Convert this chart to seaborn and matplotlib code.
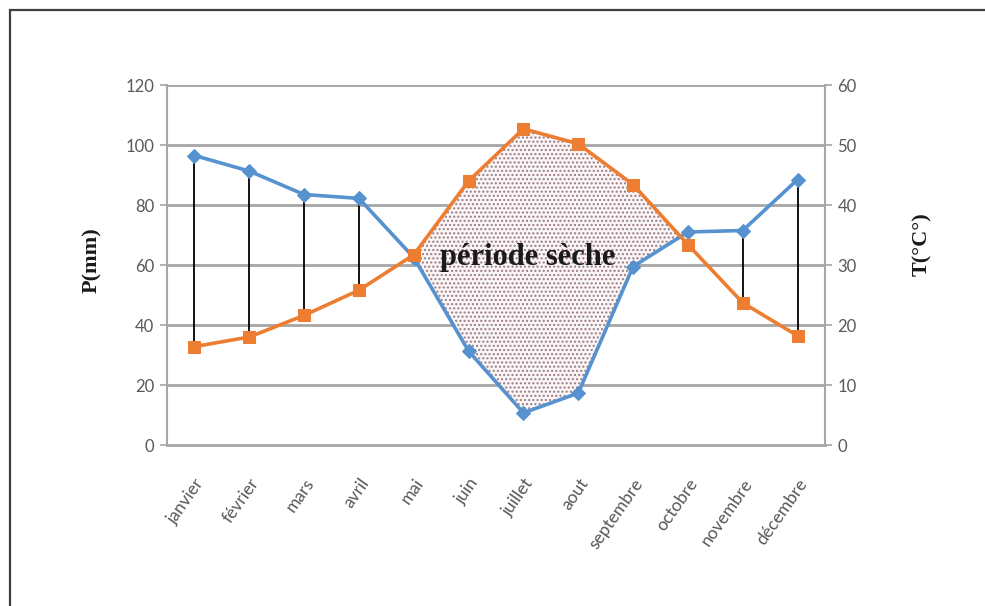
import matplotlib
matplotlib.use("Agg")
import matplotlib.pyplot as plt
import matplotlib.patches as mpatches
import numpy as np
import pandas as pd
import seaborn as sns

# Monthly climate data
mois = ["janvier", "février", "mars", "avril", "mai", "juin", "juillet",
        "aout", "septembre", "octobre", "novembre", "décembre"]
precip_mm = [96.5, 91.3, 83.5, 82.2, 62.5, 31.3, 10.7, 17.3, 59.5, 71.0, 71.5, 88.5]
temp_c = [16.4, 18.0, 21.6, 25.8, 31.7, 44.0, 52.7, 50.2, 43.4, 33.4, 23.7, 18.2]
# months marked as humid with a vertical bar between the curves
mois_humides = ["janvier", "février", "mars", "avril", "novembre", "décembre"]

df = pd.DataFrame({"mois": mois, "P": precip_mm, "T": temp_c})
df["x"] = np.arange(len(df))
df["T2"] = df["T"] * 2  # temperature on the P = 2T scale

sns.set_theme(style="white")
plt.rcParams["font.family"] = ["Lato", "DejaVu Sans"]
plt.rcParams["hatch.linewidth"] = 1.0

BLUE = "#5592cf"
ORANGE = "#ed7d31"
GRID = "#a6a6a6"
TXT = "#595959"

fig = plt.figure(figsize=(9.85, 6.06), dpi=100)
fig.patch.set_facecolor("white")
ax = fig.add_axes([167 / 985, 1 - 445 / 606, (825 - 167) / 985, (445 - 85) / 606])
ax2 = ax.twinx()

# Outer frame
fig.add_artist(mpatches.Rectangle((10 / 985, -0.05), 1.1, 1 - 10 / 606 + 0.05,
                                  transform=fig.transFigure, fill=False,
                                  edgecolor="#404040", lw=1.6))

ax.set_xlim(-0.5, 11.5)
ax.set_ylim(0, 120)
ax2.set_ylim(0, 60)

# horizontal gridlines
for yv in range(20, 121, 20):
    ax.axhline(yv, color=GRID, lw=2.0, zorder=0)

# dry period: temperature curve above precipitation
ax.fill_between(df["x"], df["P"], df["T2"], where=df["T2"] > df["P"],
                interpolate=True, facecolor="#fbf6f6", edgecolor="#9a7a84",
                hatch="....", lw=0, zorder=1)

# humid months: vertical bars between the curves
hum = df[df["mois"].isin(mois_humides)]
ax.vlines(hum["x"], hum["T2"], hum["P"], color="black", lw=1.3, zorder=2)

sns.lineplot(data=df, x="x", y="P", ax=ax, color=BLUE, lw=2.6, marker="D",
             markersize=7, markeredgecolor=BLUE, zorder=3)
sns.lineplot(data=df, x="x", y="T", ax=ax2, color=ORANGE, lw=2.6, marker="s",
             markersize=9, markeredgecolor=ORANGE, zorder=3)

ax.text(6.08, 62.5, "période sèche", family="Liberation Serif", weight="bold",
        fontsize=22, ha="center", va="center", color="#1a1a1a", zorder=4)

# axes styling
for a in (ax, ax2):
    for s in a.spines.values():
        s.set_visible(False)
ax.spines["left"].set_visible(True)
ax.spines["left"].set_color(GRID)
ax.spines["left"].set_linewidth(1.5)
ax.spines["bottom"].set_visible(True)
ax.spines["bottom"].set_color(GRID)
ax.spines["bottom"].set_linewidth(2.0)
ax2.spines["right"].set_visible(True)
ax2.spines["right"].set_color(GRID)
ax2.spines["right"].set_linewidth(1.5)

ax.set_yticks(range(0, 121, 20))
ax2.set_yticks(range(0, 61, 10))
ax.set_xticks(df["x"])
ax.set_xticklabels(mois, rotation=55, ha="right", rotation_mode="anchor")
ax.set_xticks(np.arange(-0.5, 12, 1), minor=True)
ax.tick_params(axis="x", which="major", length=0, pad=22, labelsize=12.5, labelcolor=TXT)
ax.tick_params(axis="x", which="minor", length=6, width=1.2, color=GRID, direction="out")
ax.tick_params(axis="y", length=5, width=1.2, color=GRID, direction="out",
               labelsize=12, labelcolor=TXT, pad=4, left=True)
ax2.tick_params(axis="y", length=5, width=1.2, color=GRID, direction="out",
                labelsize=12, labelcolor=TXT, pad=4, right=True)
ax2.grid(False)
ax.grid(False)

ax.set_xlabel("")
ax.set_ylabel("")
ax2.set_ylabel("")
fig.text(92 / 985, 1 - 260 / 606, "P(mm)", family="Liberation Serif", weight="bold",
         fontsize=16, color="#1a1a1a", rotation=90, ha="center", va="center")
fig.text(922 / 985, 1 - 244 / 606, "T(°C°)", family="Liberation Serif", weight="bold",
         fontsize=16, color="#1a1a1a", rotation=90, ha="center", va="center")

fig.savefig("out.png", dpi=100, facecolor="white")
